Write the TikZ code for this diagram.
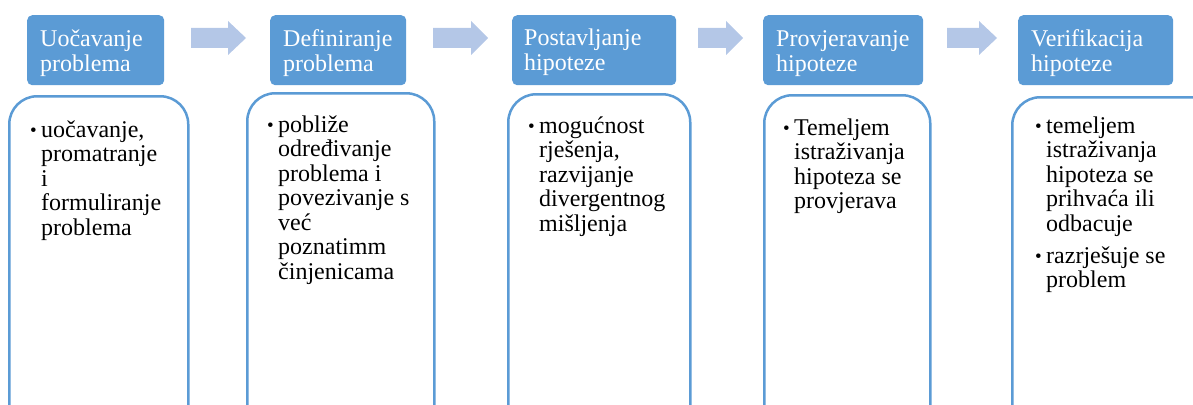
\documentclass[tikz,border=0pt]{standalone}
\usepackage{fontspec}
\setmainfont{Liberation Serif}
\usetikzlibrary{calc}
\definecolor{plava}{HTML}{5B9BD5}
\definecolor{svijetloplava}{HTML}{B4C7E7}
\def\blokstrelica(#1:#2:#3){\fill[svijetloplava] (#1, 28) -- (#3, 28) -- (#3, 21) -- (#2, 38) -- (#3, 55) -- (#3, 48) -- (#1, 48) -- cycle;}
\newcommand{\stavka}[1]{\makebox[11pt][l]{\raisebox{1pt}{\fontsize{19}{19}\selectfont\textbullet}}\begin{tabular}[t]{@{}l@{}}#1\end{tabular}}

\begin{document}
\begin{tikzpicture}[x=1pt, y=-1pt,
	naslov/.style={fill=plava, rounded corners=5, anchor=north west, minimum height=70, inner sep=0},
	naslovtekst/.style={anchor=base west, align=left, inner sep=0, text=white, font=\fontsize{24}{25}\selectfont},
	tijelo/.style={draw=plava, line width=2.5, fill=white, rounded corners=28, anchor=north west, minimum height=380, inner sep=0},
	tijelotekst/.style={anchor=base west, align=left, inner sep=0, font=\fontsize{24}{24.5}\selectfont}]
			%%%%% START %%%%%
			
			\path[use as bounding box, clip] (0, 0) rectangle (1193, 404);
			
			% naslovi
			\node[naslov, minimum width=137] (h1) at (27, 15) {};
			\node[naslov, minimum width=136] (h2) at (270, 15) {};
			\node[naslov, minimum width=164] (h3) at (512, 15) {};
			\node[naslov, minimum width=160] (h4) at (763, 15) {};
			\node[naslov, minimum width=155] (h5) at (1018, 15) {};
			
			% (base = zadnji redak)
			\node[naslovtekst] (n1) at (40, 71.5) {Uočavanje\\problema};
			\node[naslovtekst] (n2) at (283, 71.5) {Definiranje\\problema};
			\node[naslovtekst] (n3) at (524, 70.5) {Postavljanje\\hipoteze};
			\node[naslovtekst] (n4) at (776, 71.5) {Provjeravanje\\hipoteze};
			\node[naslovtekst] (n5) at (1031, 71.5) {Verifikacija\\hipoteze};
			
			% strelice
			\blokstrelica(191:246:228)
			\blokstrelica(433:488:471)
			\blokstrelica(698:743:726)
			\blokstrelica(947:997:979)
			
			% okviri
			\node[tijelo, minimum width=179] (b1) at (8, 95) {};
			\node[tijelo, minimum width=187] (b2) at (246, 92) {};
			\node[tijelo, minimum width=182] (b3) at (507, 93) {};
			\node[tijelo, minimum width=166] (b4) at (763, 94) {};
			\node[tijelo, minimum width=220] (b5) at (1011, 96) {};
			
			\node[tijelotekst] (t1) at (30, 137) {\stavka{uočavanje,\\promatranje\\i\\formuliranje\\problema}};
			\node[tijelotekst] (t2) at (267, 132) {\stavka{pobliže\\određivanje\\problema i\\povezivanje s\\već\\poznatimm\\činjenicama}};
			\node[tijelotekst] (t3) at (528, 133) {\stavka{mogućnost\\rješenja,\\razvijanje\\divergentnog\\mišljenja}};
			\node[tijelotekst] (t4) at (783, 135) {\stavka{Temeljem\\istraživanja\\hipoteza se\\provjerava}};
			\node[tijelotekst] (t5) at (1035, 263) {\stavka{temeljem\\istraživanja\\hipoteza se\\prihvaća ili\\odbacuje}\\[6.5pt]\stavka{razrješuje se\\problem}};
			
			%%%%% END %%%%%
		\end{tikzpicture}
\end{document}
